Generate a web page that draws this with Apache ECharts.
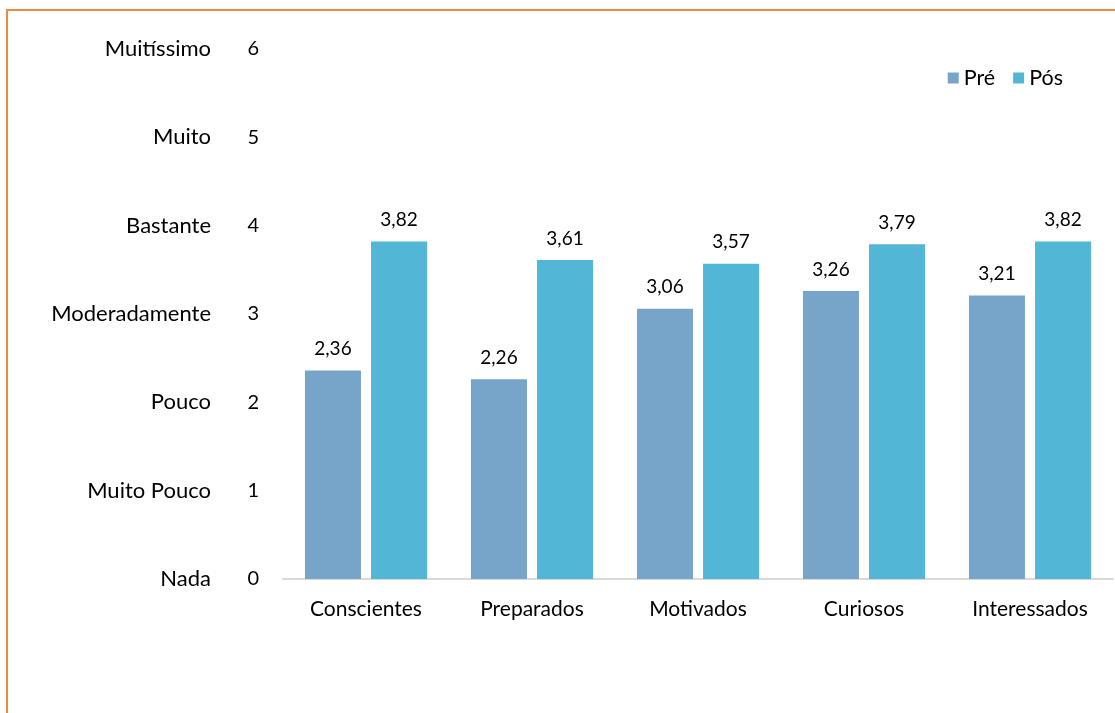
<!DOCTYPE html>
<html>
<head>
<meta charset="utf-8">
<script src="https://cdn.jsdelivr.net/npm/echarts@6/dist/echarts.min.js"></script>
<style>
html,body{margin:0;padding:0;background:#fff;overflow:hidden;}
#frame{position:absolute;left:6px;top:9px;width:1200px;height:800px;border-left:2px solid #F0883E;border-top:2px solid #F0883E;}
#chart{position:absolute;left:0;top:0;width:1115px;height:713px;}
</style>
</head>
<body>
<div id="frame"></div>
<div id="chart"></div>
<script>
const categories = ['Conscientes','Preparados','Motivados','Curiosos','Interessados'];
const pre = [2.36, 2.26, 3.06, 3.26, 3.21];
const pos = [3.82, 3.61, 3.57, 3.79, 3.82];
const scaleLabels = ['Nada','Muito Pouco','Pouco','Moderadamente','Bastante','Muito','Muitíssimo'];
const seriesNames = ['Pré','Pós'];

const font = 'Lato, "Open Sans", sans-serif';
const chart = echarts.init(document.getElementById('chart'));
const lbl = {show:true, position:'top', distance:12, color:'#000', fontSize:19, fontFamily:font,
  formatter: p => p.value.toFixed(2).replace('.', ',')};
chart.setOption({
  animation:false,
  textStyle:{fontFamily:font},
  legend:{data:seriesNames, right:47, top:62, itemWidth:11, itemHeight:11, itemGap:18,
    textStyle:{fontSize:21.5, color:'#000', fontFamily:font}, icon:'rect'},
  grid:{left:283, right:2, top:49, bottom:134},
  xAxis:{type:'category', data:categories,
    axisLine:{lineStyle:{color:'#D9D9D9', width:2}}, axisTick:{show:false},
    axisLabel:{color:'#000', fontSize:21, margin:20, fontFamily:font}},
  yAxis:[
    {type:'value', min:0, max:6, interval:1, position:'left',
     axisLine:{show:false}, axisTick:{show:false}, splitLine:{show:false},
     axisLabel:{color:'#000', fontSize:20, margin:24, fontFamily:font}},
    {type:'value', min:0, max:6, interval:1, position:'left',
     axisLine:{show:false}, axisTick:{show:false}, splitLine:{show:false},
     axisLabel:{color:'#000', fontSize:22, margin:72, fontFamily:font,
       formatter: v => scaleLabels[v]}}
  ],
  series:[
    {name:seriesNames[0], type:'bar', data:pre, barWidth:56, barGap:'18%',
     itemStyle:{color:'#76A5C9'}, label:lbl},
    {name:seriesNames[1], type:'bar', data:pos, barWidth:56, barGap:'18%',
     itemStyle:{color:'#52B6D6'}, label:lbl}
  ]
});
</script>
</body>
</html>
